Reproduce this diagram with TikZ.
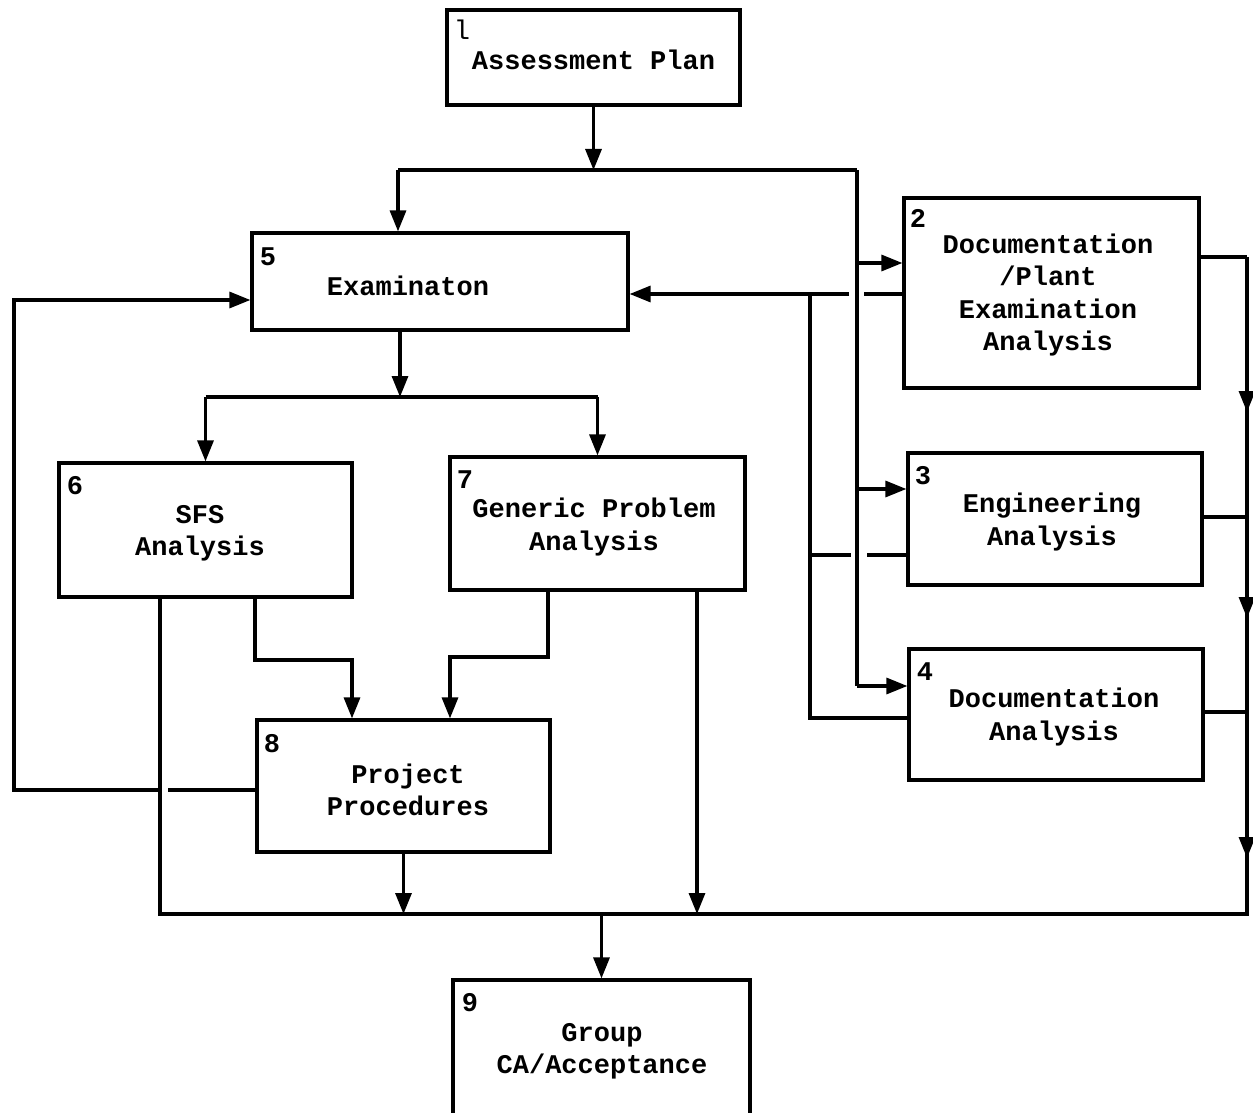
\documentclass[tikz,border=0pt]{standalone}
\usepackage{fontspec}
\setmainfont{Liberation Mono}
\usetikzlibrary{arrows.meta}
\tikzset{
  box/.style={draw, line width=1.6pt, inner sep=0pt},
  conn/.style={line width=1.6pt, line join=miter},
  arr/.style={conn, -{Triangle[length=10.5pt,width=8pt]}},
  lbl/.style={align=center, inner sep=0pt, font=\fontsize{13.5}{16.2}\selectfont\bfseries},
  num/.style={inner sep=0pt, font=\fontsize{13.5}{16.2}\selectfont\bfseries},
}
\begin{document}
\begin{tikzpicture}[x=0.5pt,y=-0.5pt]
\useasboundingbox (0,0) rectangle (1253,1113);
\fill[white] (0,0) rectangle (1253,1113);
% boxes
\node[box, minimum width=146.5pt, minimum height=47.5pt] (b1) at (593.5,57.5) {};
\node[box, minimum width=147.5pt, minimum height=95pt]   (b2) at (1051.5,293) {};
\node[box, minimum width=147pt,   minimum height=66pt]   (b3) at (1055,519) {};
\node[box, minimum width=147pt,   minimum height=65.5pt] (b4) at (1056,714.5) {};
\node[box, minimum width=188pt,   minimum height=48.5pt] (b5) at (440,281.5) {};
\node[box, minimum width=146.5pt, minimum height=67pt]   (b6) at (205.5,530) {};
\node[box, minimum width=147.5pt, minimum height=66.5pt] (b7) at (597.5,523.5) {};
\node[box, minimum width=146.5pt, minimum height=66pt]   (b8) at (403.5,786) {};
\node[box, minimum width=148.5pt, minimum height=70pt]   (b9) at (601.5,1050) {};
% texts
\node[lbl] (t1) at (593.5,60) {Assessment Plan};
\node[lbl] (t2) at (1048,295) {Documentation\\/Plant\\Examination\\Analysis};
\node[lbl] (t3) at (1052,522) {Engineering\\Analysis};
\node[lbl] (t4) at (1054,717) {Documentation\\Analysis};
\node[lbl] (t5) at (408,286) {Examinaton};
\node[lbl] (t6) at (200,533) {SFS\\Analysis};
\node[lbl] (t7) at (594,527) {Generic Problem\\Analysis};
\node[lbl] (t8) at (408,790) {Project\\Procedures};
\node[lbl] (t9) at (602,1051) {Group\\CA/Acceptance};
% numbers
\node[inner sep=0pt, font=\fontsize{13.5}{16.2}\selectfont] (n1) at (462,30) {l};
\node[num] (n2) at (918,218) {2};
\node[num] (n3) at (923,476) {3};
\node[num] (n4) at (925,672) {4};
\node[num] (n5) at (268,257) {5};
\node[num] (n6) at (75,486) {6};
\node[num] (n7) at (465,480) {7};
\node[num] (n8) at (272,744) {8};
\node[num] (n9) at (470,1003) {9};
% top bus
\coordinate (busL) at (398,170);
\coordinate (busR) at (857,170);
\coordinate (j1) at (593.5,170);
\draw[arr] (b1.south) -- (j1);
\draw[conn] (busL) -- (busR);
\draw[arr] (busL) -- (busL |- b5.north);
\draw[conn] (busR) -- (857,686);
\coordinate (a2) at (857,263);
\coordinate (a3) at (857,489);
\coordinate (a4) at (857,686);
\draw[arr] (a2) -- (a2 -| b2.west);
\draw[arr] (a3) -- (a3 -| b3.west);
\draw[arr] (a4) -- (a4 -| b4.west);
% feedback from 2,3,4 to 5
\coordinate (f2r) at (864,294);
\coordinate (f2l) at (849,294);
\coordinate (v1) at (810,294);
\coordinate (v2) at (810,718);
\draw[conn] (b2.west |- f2r) -- (f2r);
\draw[arr] (f2l) -- (f2l -| b5.east);
\draw[conn] (v1) -- (v2) -- (v2 -| b4.west);
\coordinate (f3l) at (851,555);
\coordinate (f3r) at (867,555);
\draw[conn] (f3l -| v1) -- (f3l);
\draw[conn] (f3r) -- (f3r -| b3.west);
% right side to bottom bus
\coordinate (R2) at (1247,257);
\coordinate (R3) at (1247,517);
\coordinate (R4) at (1247,712);
\coordinate (RB) at (1247,914);
\coordinate (LB) at (160,914);
\draw[conn] (b2.east |- R2) -- (R2);
\draw[conn] (b3.east |- R3) -- (R3);
\draw[conn] (b4.east |- R4) -- (R4);
\draw[conn] (R2) -- (RB) -- (LB) -- (LB |- b6.south);
\draw[arr] (R2) -- (1247,412);
\draw[arr] (R3) -- (1247,618);
\draw[arr] (R4) -- (1247,858);
% middle
\coordinate (m5) at (400,330);
\coordinate (bus2) at (400,397);
\coordinate (bus2L) at (205.5,397);
\coordinate (bus2R) at (597.5,397);
\draw[arr] (m5) -- (bus2);
\draw[conn] (bus2L) -- (bus2R);
\draw[arr] (bus2L) -- (b6.north);
\draw[arr] (bus2R) -- (b7.north);
% 6,7 to 8
\coordinate (s6) at (255,660);
\coordinate (e6) at (352,660);
\coordinate (s7) at (548,657);
\coordinate (e7) at (450,657);
\draw[arr] (s6 |- b6.south) -- (s6) -- (e6) -- (e6 |- b8.north);
\draw[arr] (s7 |- b7.south) -- (s7) -- (e7) -- (e7 |- b8.north);
% 8 feedback to 5
\coordinate (g1) at (168,790);
\coordinate (g2) at (160,790);
\coordinate (g3) at (14,790);
\coordinate (g4) at (14,300);
\draw[conn] (b8.west |- g1) -- (g1);
\draw[arr] (g2) -- (g3) -- (g4) -- (g4 -| b5.west);
% to bottom bus and 9
\coordinate (k8) at (403.5,914);
\coordinate (k7) at (697,914);
\coordinate (k9) at (601.5,914);
\draw[arr] (b8.south) -- (k8);
\draw[arr] (k7 |- b7.south) -- (k7);
\draw[arr] (k9) -- (b9.north);
\end{tikzpicture}
\end{document}
